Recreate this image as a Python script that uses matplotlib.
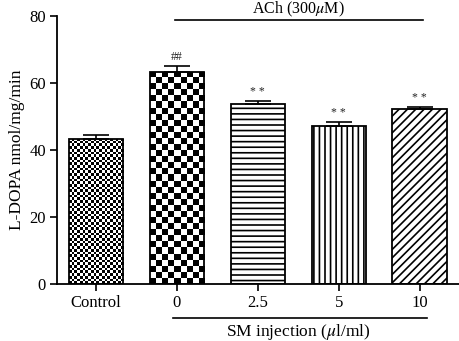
import numpy as np
import matplotlib
matplotlib.use("Agg")
import matplotlib.pyplot as plt

plt.rcParams['font.family'] = ['Liberation Serif', 'DejaVu Serif']
plt.rcParams['mathtext.fontset'] = 'stix'
plt.rcParams['hatch.linewidth'] = 1.2

groups = ["Control", "0", "2.5", "5", "10"]
means = [43.3, 63.3, 53.7, 47.2, 52.2]
errs = [1.3, 1.8, 0.9, 1.1, 0.6]
marks = ["", "##", "* *", "* *", "* *"]
hatches = [None, None, "---", "|||", "////"]
checker_px = [2.7, 6.0, None, None, None]   # checker cell size in pixels

fig = plt.figure(figsize=(4.6, 3.41), dpi=100)
ax = fig.add_axes([0.124, 0.167, 0.876, 0.786])

x = np.arange(len(groups))
faces = ["none" if c else "white" for c in checker_px]
bars = ax.bar(x, means, width=0.67, color=faces, edgecolor="black", linewidth=1.3, zorder=2)
for b, h in zip(bars, hatches):
    if h:
        b.set_hatch(h)

ax.errorbar(x, means, yerr=[np.zeros(len(errs)), errs], fmt="none", ecolor="black",
            elinewidth=1.2, capsize=9.5, capthick=1.2, zorder=3)

ax.set_xlim(-0.48, 4.5)
ax.set_ylim(0, 80)
ax.set_yticks([0, 20, 40, 60, 80])
ax.set_xticks(x)
ax.set_xticklabels(groups)
ax.tick_params(direction="out", length=5, width=1.2, labelsize=12, pad=3)
for s in ["top", "right"]:
    ax.spines[s].set_visible(False)
for s in ["left", "bottom"]:
    ax.spines[s].set_linewidth(1.3)
ax.set_ylabel("L-DOPA nmol/mg/min", fontsize=12.5, labelpad=3)

# checkerboard fills, clipped to the bars
fig.canvas.draw()
for b, cell in zip(bars, checker_px):
    if cell is None:
        continue
    x0, y0 = b.get_x(), b.get_y()
    x1, y1 = x0 + b.get_width(), y0 + b.get_height()
    (px0, py0), (px1, py1) = ax.transData.transform([(x0, y0), (x1, y1)])
    nx = max(1, int(round((px1 - px0) / cell)))
    ny = max(1, int(round((py1 - py0) / cell)))
    pat = (np.add.outer(np.arange(ny), np.arange(nx)) % 2).astype(float)
    im = ax.imshow(pat, cmap="gray", extent=(x0, x1, y0, y1), origin="lower",
                   interpolation="nearest", aspect="auto", zorder=1.5, vmin=0, vmax=1)
    im.set_clip_path(b)
ax.set_xlim(-0.48, 4.5)
ax.set_ylim(0, 80)

for xi, m, e, v in zip(x, marks, errs, means):
    if m:
        ax.text(xi, v + e + 1.0, m, ha="center", va="bottom", fontsize=8.5, color="#222222")

# ACh bracket above
ax.plot([0.975, 4.04], [78.8, 78.8], color="black", lw=1.2, clip_on=False)
ax.text(2.5, 80.9, r"ACh (300$\mu$M)", ha="center", va="baseline", fontsize=11.5)

# SM injection bracket below
trans = ax.get_xaxis_transform()
ax.plot([0.95, 4.09], [-0.126, -0.126], color="black", lw=1.2, transform=trans, clip_on=False)
ax.text(2.5, -0.14, r"SM injection ($\mu$l/ml)", ha="center", va="top", fontsize=12.5,
        transform=trans)

fig.savefig("out.png", dpi=100)
